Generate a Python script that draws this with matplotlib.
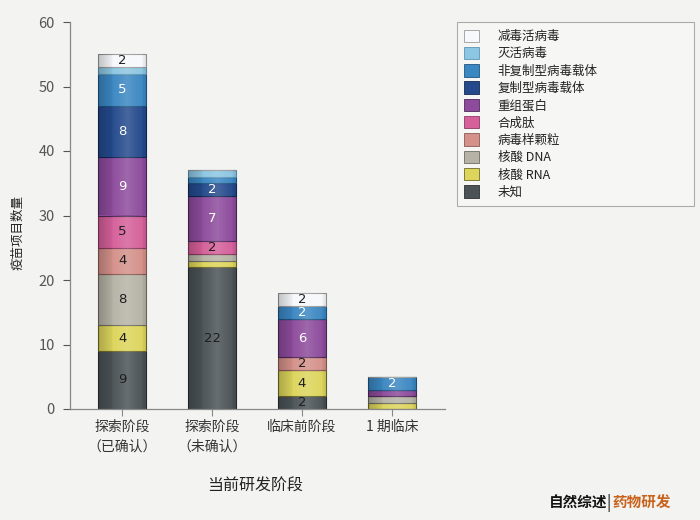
import numpy as np
import matplotlib
matplotlib.use("Agg")
import matplotlib.pyplot as plt
from matplotlib.patches import Patch

plt.rcParams['font.family'] = ['Noto Sans CJK SC', 'DejaVu Sans']

categories = ['探索阶段\n（已确认）', '探索阶段\n（未确认）', '临床前阶段', '1 期临床']

# stacking order: bottom -> top
series_names = ['未知', '核酸 RNA', '核酸 DNA', '病毒样颗粒', '合成肽', '重组蛋白',
                '复制型病毒载体', '非复制型病毒载体', '灭活病毒', '减毒活病毒']
unknown = [9, 22, 2, 0]
rna = [4, 1, 4, 1]
dna = [8, 1, 0, 1]
vlp = [4, 0, 2, 0]
peptide = [5, 2, 0, 0]
protein = [9, 7, 6, 1]
rep_vector = [8, 2, 0, 0]
nonrep_vector = [5, 1, 2, 2]
inactivated = [1, 1, 0, 0]
live_attenuated = [2, 0, 2, 0]
series_values = [unknown, rna, dna, vlp, peptide, protein, rep_vector,
                 nonrep_vector, inactivated, live_attenuated]

colors = ['#4b5357', '#ddd55c', '#b6b3a6', '#d4918a', '#d5609a', '#8d4b9c',
          '#244a8c', '#3b87c2', '#8dc6e2', '#f6f8fb']
text_colors = ['#1e1e1e', '#1e1e1e', '#1e1e1e', '#1e1e1e', '#1e1e1e', '#ffffff',
               '#ffffff', '#ffffff', '#1e1e1e', '#1e1e1e']
edge_colors = ['#2a2f31', '#6d6a2a', '#6e6c62', '#8a5a55', '#8a3a62', '#4e2a58',
               '#122a55', '#1f5580', '#5e95b2', '#9a9a9a']

bg = '#f3f3f1'
fig = plt.figure(figsize=(7, 5.2), dpi=100, facecolor=bg)
ax = fig.add_axes([70/700, 1-409/520, (445-70)/700, (409-22)/520], facecolor=bg)

x = np.arange(len(categories))
width = 0.54
bottom = np.zeros(len(categories))

# horizontal shading for a cylindrical look
grad_n = 64
t = np.linspace(0, 1, grad_n)
shade = np.zeros((1, grad_n, 4))
light = np.clip(1 - np.abs(t - 0.6) / 0.45, 0, 1) ** 1.5
dark = np.clip((np.abs(t - 0.6) - 0.25) / 0.35, 0, 1)
shade[0, :, :3] = np.where(light[:, None] > dark[:, None], 1.0, 0.0)
shade[0, :, 3] = np.maximum(light * 0.16, dark * 0.22)

for vals, col, ec, tc in zip(series_values, colors, edge_colors, text_colors):
    vals = np.array(vals, dtype=float)
    bars = ax.bar(x, vals, width, bottom=bottom, color=col, edgecolor=ec,
                  linewidth=0.8, zorder=2)
    for b, v, b0 in zip(bars, vals, bottom):
        if v <= 0:
            continue
        x0 = b.get_x()
        im = ax.imshow(shade, extent=(x0, x0 + b.get_width(), b0, b0 + v),
                       aspect='auto', zorder=2.5, interpolation='bilinear')
        im.set_clip_path(b)
        if v >= 2:
            ax.text(b.get_x() + b.get_width() / 2, b0 + v / 2, f'{int(v)}',
                    ha='center', va='center', fontsize=9.5, color=tc,
                    family=['DejaVu Sans'], zorder=3)
    bottom += vals

ax.set_xlim(-0.58, 3.59)
ax.set_ylim(0, 60)
ax.set_yticks(np.arange(0, 61, 10))
ax.set_xticks(x)
ax.set_xticklabels(categories, fontsize=10, color='#333333', linespacing=1.5)
ax.tick_params(axis='y', labelsize=10.5, colors='#555555', length=5, width=0.8, pad=6)
ax.tick_params(axis='x', length=5, width=0.8, color='#888888', pad=3)
for side in ['top', 'right']:
    ax.spines[side].set_visible(False)
for side in ['left', 'bottom']:
    ax.spines[side].set_color('#888888')
    ax.spines[side].set_linewidth(0.9)

fig.text(18/700, 1-233/520, '疫苗项目数量', rotation=90, ha='center', va='center',
         fontsize=9, color='#222222')
fig.text(255/700, 1-486/520, '当前研发阶段', ha='center', va='center',
         fontsize=11.5, color='#222222')

handles = [Patch(facecolor=c, edgecolor=e, linewidth=0.6) for c, e in zip(colors, edge_colors)]
leg = fig.legend(handles[::-1], series_names[::-1], loc='upper left',
                 bbox_to_anchor=(457/700, 1-22/520, 237/700, 0.0), mode='expand',
                 borderaxespad=0, fontsize=9, frameon=True, fancybox=False,
                 handlelength=1.15, handleheight=1.15, handletextpad=1.5,
                 labelspacing=0.31, borderpad=0.6)
leg.get_frame().set_edgecolor('#999999')
leg.get_frame().set_facecolor('#f8f8f7')
leg.get_frame().set_linewidth(0.8)
for txt in leg.get_texts():
    txt.set_color('#222222')

fig.text(607/700, 1-503/520, '自然综述', ha='right', va='center', fontsize=10.5,
         fontweight='bold', color='#111111')
fig.text(609/700, 1-503/520, '|', ha='center', va='center', fontsize=11,
         color='#111111')
fig.text(612/700, 1-503/520, '药物研发', ha='left', va='center', fontsize=10.5,
         fontweight='bold', color='#c8621c')

fig.savefig('out.png', dpi=100, facecolor=bg)
